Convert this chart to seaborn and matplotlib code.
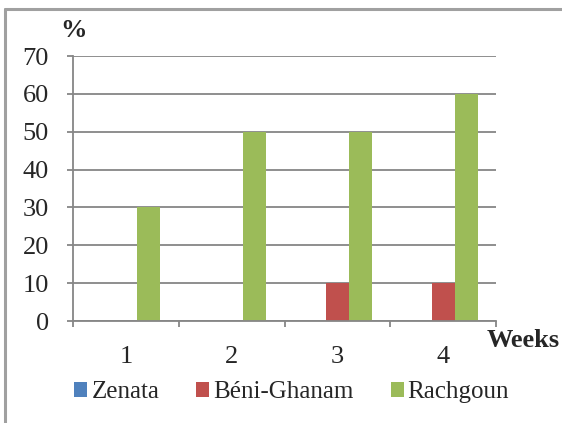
import matplotlib
matplotlib.use("Agg")
import matplotlib.pyplot as plt
from matplotlib.patches import Patch
from matplotlib.lines import Line2D
import seaborn as sns
import pandas as pd

# ------------------------------
# Data
# ------------------------------
weeks = ["1", "2", "3", "4"]
sites = ["Zenata", "Béni-Ghanam", "Rachgoun"]
zenata = [0, 0, 0, 0]
beni_ghanam = [0, 0, 10, 10]
rachgoun = [30, 50, 50, 60]
colors = ["#4F81BD", "#C0504D", "#9BBB59"]

df = pd.DataFrame({
    "week": weeks * 3,
    "site": [s for s in sites for _ in weeks],
    "value": zenata + beni_ghanam + rachgoun,
})

# ------------------------------
# Plot
# ------------------------------
sns.set_style("white")
plt.rcParams["font.family"] = ["Liberation Serif", "DejaVu Serif"]
grey = "#868686"

fig = plt.figure(figsize=(5.62, 4.23), dpi=100)
ax = fig.add_axes([0.130, 0.241, 0.7527, 0.6265])

sns.barplot(data=df, x="week", y="value", hue="site", palette=colors,
            width=0.65, ax=ax, legend=False, saturation=1,
            edgecolor="none", linewidth=0)

ax.set_xlim(-0.5, 3.5)
ax.set_ylim(0, 70)
ax.set_yticks(range(0, 71, 10))
ax.yaxis.grid(True, color=grey, linewidth=1.3)
ax.set_axisbelow(True)
ax.set_xlabel("")
ax.set_ylabel("")

for s in ["top", "right"]:
    ax.spines[s].set_visible(False)
for s in ["left", "bottom"]:
    ax.spines[s].set_color(grey)
    ax.spines[s].set_linewidth(1.3)

# category ticks at group boundaries, labels centred
ax.set_xticks([-0.5, 0.5, 1.5, 2.5, 3.5])
ax.set_xticklabels([])
ax.set_xticks(range(len(weeks)), minor=True)
ax.set_xticklabels(weeks, minor=True)
ax.tick_params(axis="x", which="major", length=4.5, width=1.3, color=grey, direction="out", bottom=True)
ax.tick_params(axis="x", which="minor", length=0, pad=18, labelsize=19)
ax.tick_params(axis="y", length=4.5, width=1.3, color=grey, direction="out", left=True, pad=13, labelsize=19)

fig.text(0.108, 0.927, "%", fontsize=19, fontweight="bold", ha="left", va="center")
fig.text(0.8665, 0.194, "Weeks", fontsize=19, fontweight="bold", ha="left", va="center")

handles = [Patch(facecolor=c, edgecolor="none") for c in colors]
fig.legend(handles, sites, loc="center", bbox_to_anchor=(0.519, 0.073), ncol=3,
           frameon=False, fontsize=18, handlelength=0.52, handleheight=0.52,
           handletextpad=0.16, columnspacing=1.48)

# outer frame (top and left edges visible)
fig.add_artist(Line2D([0.009, 1.0], [0.978, 0.978], color="#A0A0A0", linewidth=2.2,
                      transform=fig.transFigure))
fig.add_artist(Line2D([0.009, 0.009], [0.0, 0.978], color="#A0A0A0", linewidth=2.2,
                      transform=fig.transFigure))

fig.savefig("out.png", dpi=100, facecolor="white")
